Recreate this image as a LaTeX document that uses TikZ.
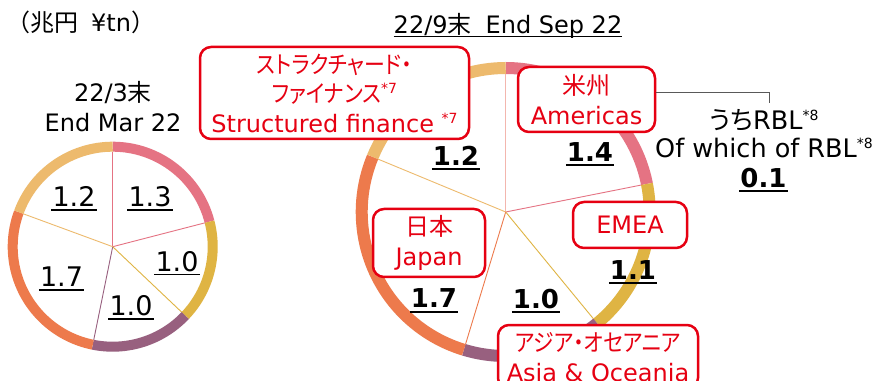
\documentclass[tikz,border=0pt]{standalone}
\usepackage{fontspec}
\usepackage{graphicx}
\setmainfont{DejaVu Sans}
\newfontfamily\cjk{Noto Sans CJK JP}
\newfontfamily\cjkp[CharacterWidth=AlternateProportional]{Noto Sans CJK JP}
\usetikzlibrary{calc}
\definecolor{cpink}{HTML}{E57383}
\definecolor{cpinkl}{HTML}{F3B6AE}
\definecolor{cgold}{HTML}{DFB443}
\definecolor{cpurple}{HTML}{98607F}
\definecolor{corange}{HTML}{ED7A4C}
\definecolor{clight}{HTML}{EDBA6D}
\definecolor{cred}{HTML}{E60012}
\definecolor{cgray}{HTML}{595959}
\newcommand\sups[1]{\raisebox{9pt}{\fontsize{14}{14}\selectfont #1}}
\newcommand\kana[1]{\scalebox{0.87}[1]{\cjkp #1}}
\tikzset{
  txt/.style={inner sep=0pt, anchor=base, font=\fontsize{24}{29}\selectfont},
  num/.style={inner sep=0pt, anchor=base, font=\fontsize{27}{30}\selectfont},
  bnum/.style={inner sep=0pt, anchor=base, font=\fontsize{26}{30}\bfseries\selectfont},
  rbox/.style={draw=cred, line width=2.5pt, rounded corners=11pt, fill=white,
    text=cred, align=center, inner sep=0pt, font=\fontsize{24}{29.5}\selectfont},
  sring/.style={line width=10pt},
  bring/.style={line width=12pt},
  spoke/.style={line width=0.9pt},
}
\begin{document}
\begin{tikzpicture}[x=1pt,y=1pt]
\useasboundingbox (0,0) rectangle (885,380);
\clip (0,0) rectangle (885,380);
\fill[white] (0,0) rectangle (885,380);
\coordinate (sc) at (112.7,133.3);
\coordinate (bc) at (505.7,168);
% small ring
\draw[sring,cpink]   (sc) ++(90:100)    arc[start angle=90,end angle=14.5,radius=100];
\draw[sring,cgold]   (sc) ++(14.5:100)  arc[start angle=14.5,end angle=-43.5,radius=100];
\draw[sring,cpurple] (sc) ++(-43.5:100) arc[start angle=-43.5,end angle=-101.5,radius=100];
\draw[sring,corange] (sc) ++(-101.5:100) arc[start angle=-101.5,end angle=-200.2,radius=100];
\draw[sring,clight]  (sc) ++(159.8:100) arc[start angle=159.8,end angle=90,radius=100];
\draw[spoke,cpink]   (sc) -- ++(90:95);
\draw[spoke,cpink]   (sc) -- ++(14.5:95);
\draw[spoke,cgold]   (sc) -- ++(-43.5:95);
\draw[spoke,cpurple] (sc) -- ++(-101.5:95);
\draw[spoke,clight]  (sc) -- ++(159.8:95);
% big ring
\draw[bring,cpink]   (bc) ++(90:144)    arc[start angle=90,end angle=11.25,radius=144];
\draw[bring,cgold]   (bc) ++(11.25:144) arc[start angle=11.25,end angle=-50.6,radius=144];
\draw[bring,cpurple] (bc) ++(-50.6:144) arc[start angle=-50.6,end angle=-106.9,radius=144];
\draw[bring,corange] (bc) ++(-106.9:144) arc[start angle=-106.9,end angle=-202.5,radius=144];
\draw[bring,clight]  (bc) ++(157.5:144) arc[start angle=157.5,end angle=90,radius=144];
\draw[spoke,cpinkl]  (bc) -- ++(90:138);
\draw[spoke,cpink]   (bc) -- ++(11.25:138);
\draw[spoke,cgold]   (bc) -- ++(-50.6:138);
\draw[spoke,corange] (bc) -- ++(-106.9:138);
\draw[spoke,clight]  (bc) -- ++(157.5:138);
% texts
\node[txt, anchor=base west] (unit) at (6,348) {{\cjk （兆円}\hspace{13pt}¥tn{\cjk ）}};
\node[txt] (t1a) at (113,278.5) {22/3{\cjk 末}};
\node[txt] (t1b) at (113,248.3) {End Mar 22};
\node[txt] (t2) at (508,346.7) {22/9{\cjk 末}\hspace{14pt}End Sep 22};
% small numbers
\node[num] (s13) at (150,173) {1.3};
\node[num] (s12) at (74,173) {1.2};
\node[num] (s10r) at (177,108.5) {1.0};
\node[num] (s10b) at (131,64) {1.0};
\node[num] (s17) at (61.5,93) {1.7};
% big numbers
\node[bnum] (b12) at (456,214.3) {1.2};
\node[bnum] (b14) at (590,218.3) {1.4};
\node[bnum] (b11) at (633,100) {1.1};
\node[bnum] (b10) at (536,71.7) {1.0};
\node[bnum] (b17) at (434,72) {1.7};
\node[bnum] (b01) at (763.5,192) {0.1};
% underlines
\draw[line width=1pt] ($(t2.base west)+(0,-3.4)$) -- ($(t2.base east)+(0,-3.4)$);
\foreach \n in {s13,s12,s10r,s10b,s17}
  \draw[line width=1.1pt] ($(\n.base west)+(-1,-3)$) -- ($(\n.base east)+(1,-3)$);
\foreach \n in {b12,b14,b11,b10,b17,b01}
  \draw[line width=2pt] ($(\n.base west)+(-1,-3.5)$) -- ($(\n.base east)+(1,-3.5)$);
% boxes
\node[rbox, minimum width=269pt, minimum height=92pt] (sf) at (334.5,287)
  {\kana{ストラクチャード・}\\\kana{ファイナンス}\sups{*7}\\Structured finance \sups{*7}};
\node[rbox, minimum width=137pt, minimum height=65pt] (amer) at (586.5,280.5)
  {{\cjk 米州}\\Americas};
\node[rbox, minimum width=114pt, minimum height=46pt] (emea) at (630,155) {EMEA};
\node[rbox, minimum width=112pt, minimum height=68pt] (japan) at (429,137)
  {{\cjk 日本}\\Japan};
\node[rbox, minimum width=200pt, minimum height=64pt] (asia) at (598,23)
  {\kana{アジア・オセアニア}\\Asia \& Oceania};
% RBL
\node[txt, font=\fontsize{25.5}{30}\selectfont] (rbl) at (764,250) {{\cjkp うち}RBL\sups{*8}};
\node[txt, font=\fontsize{25.5}{30}\selectfont] (rbl2) at (764,222) {Of which of RBL\sups{*8}};
\coordinate (rblt) at (769,277);
\draw[cgray, line width=0.9pt] ([yshift=7.5pt]amer.east) -| (rblt);
\end{tikzpicture}
\end{document}
